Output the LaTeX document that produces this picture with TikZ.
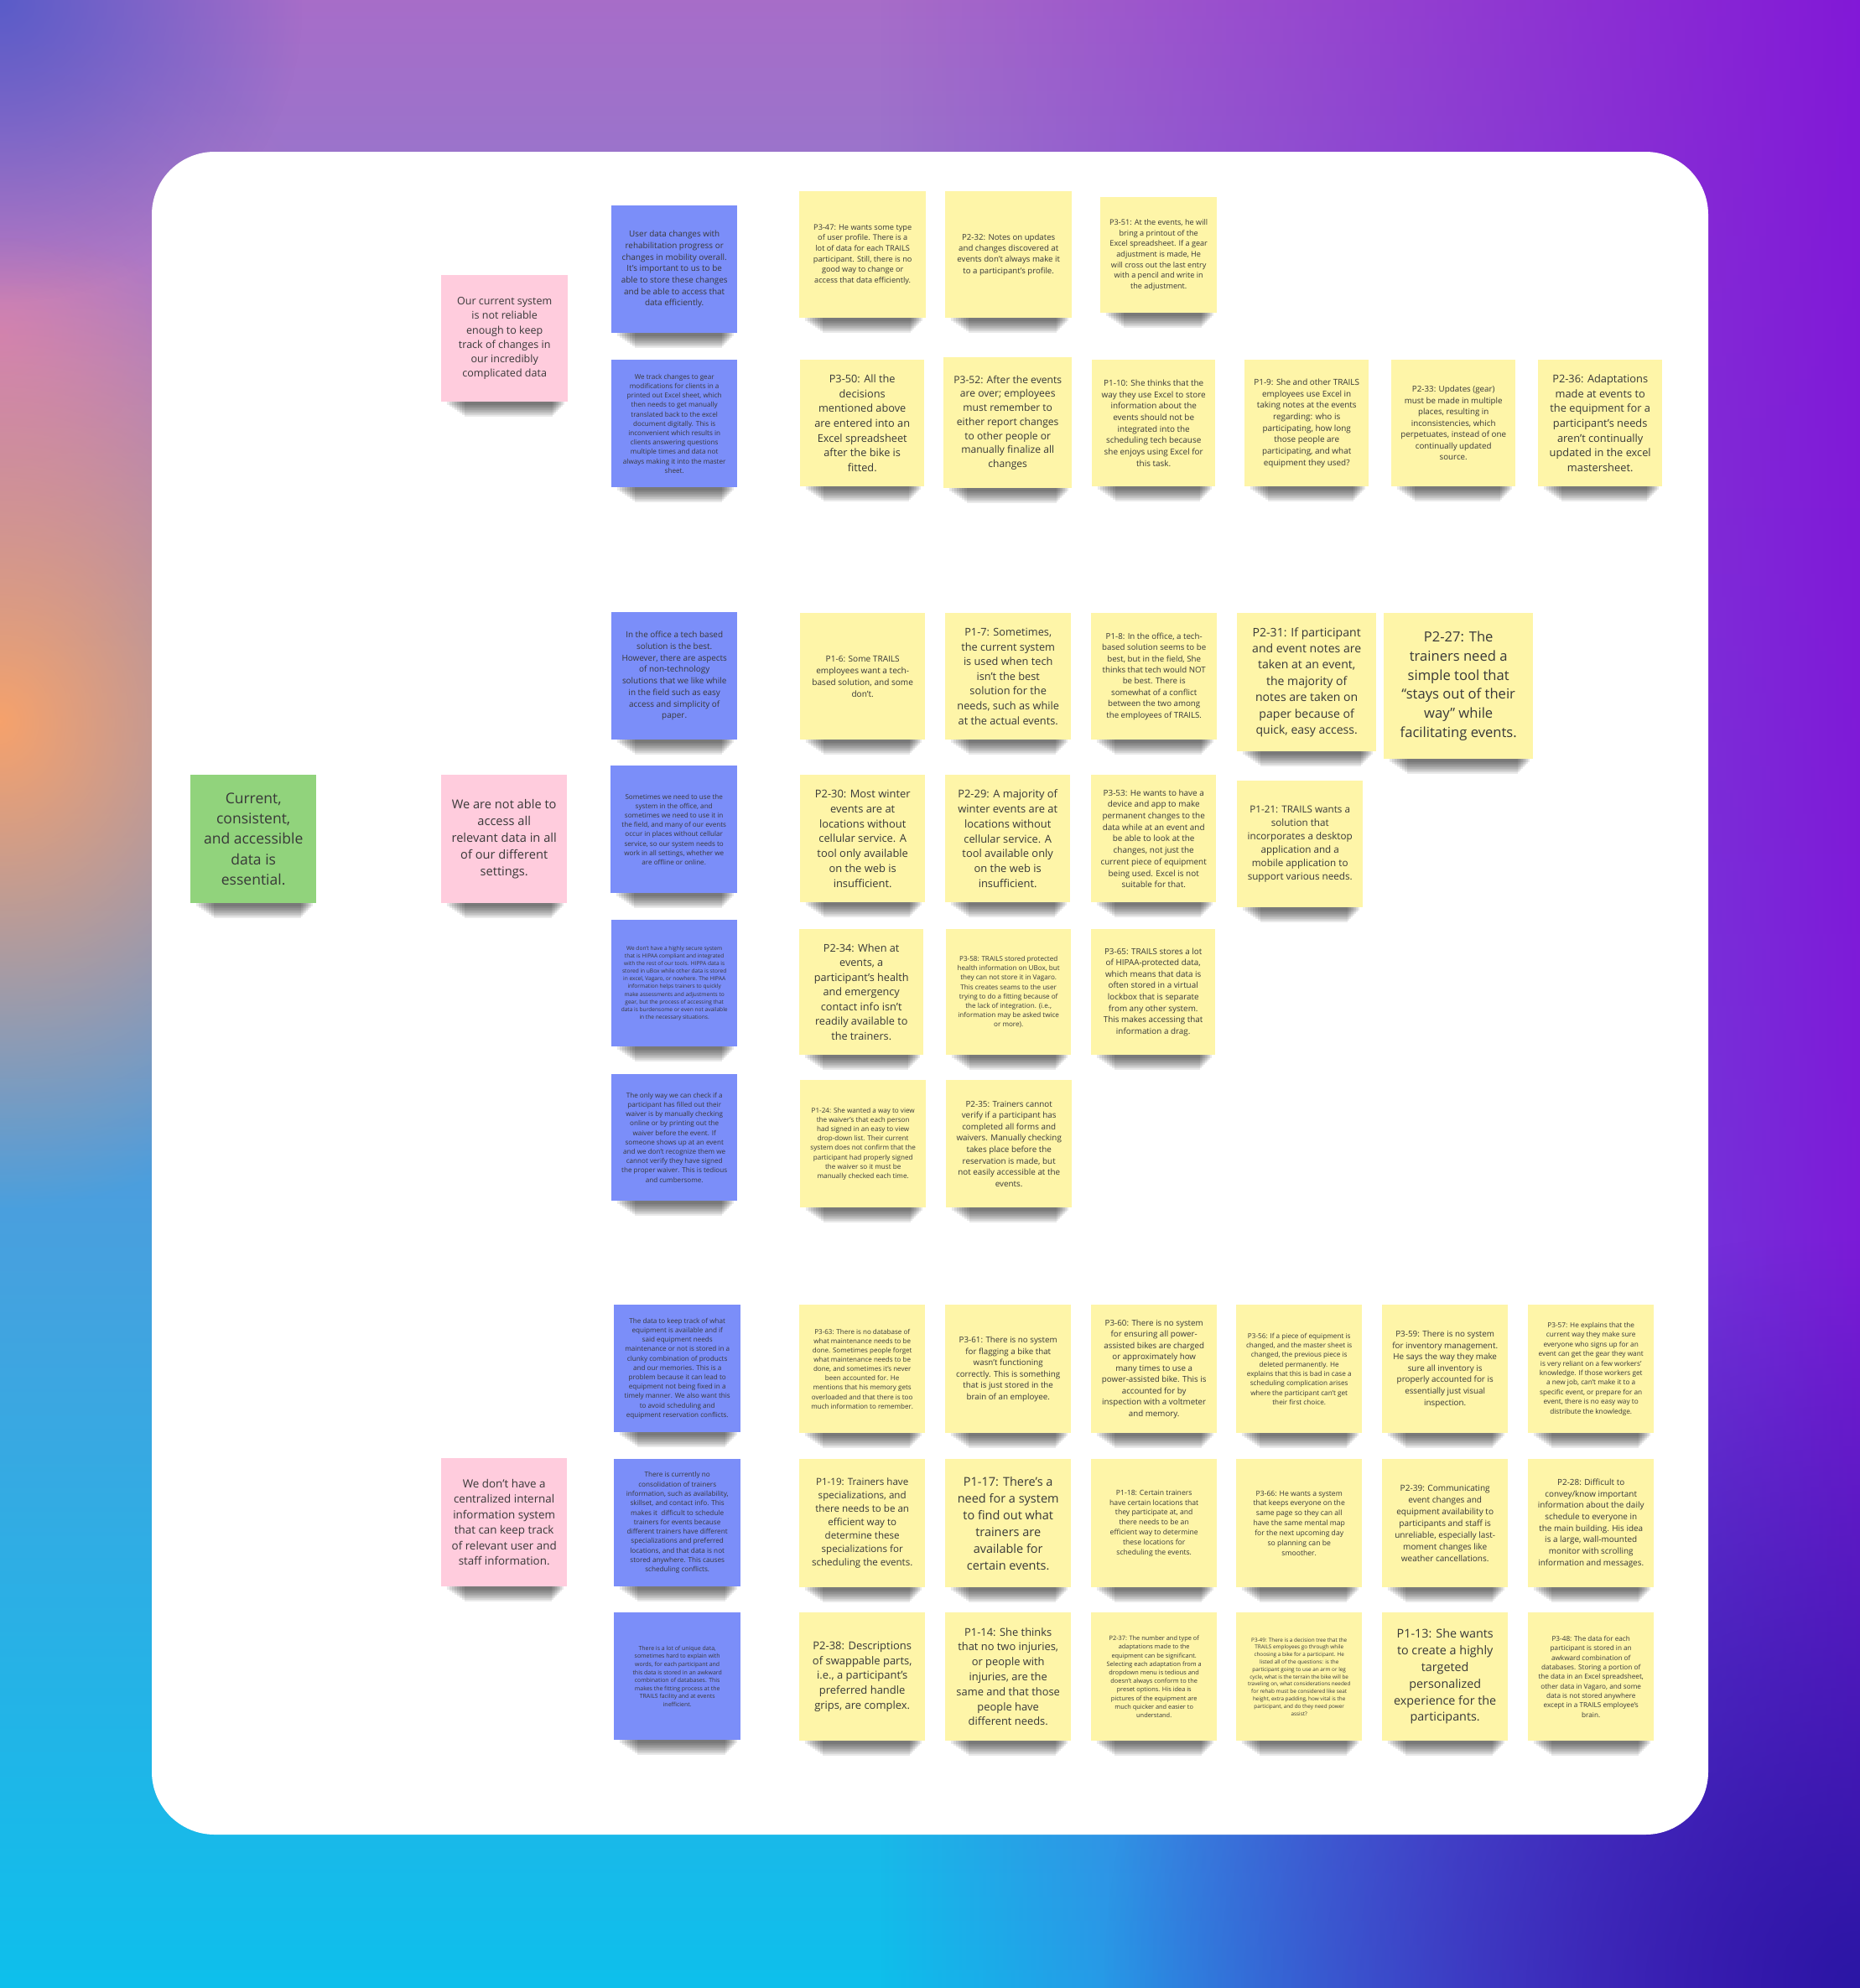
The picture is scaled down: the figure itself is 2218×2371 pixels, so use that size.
\documentclass[tikz,border=0pt]{standalone}
\usepackage{fontspec}
\setmainfont{Open Sans}
\usetikzlibrary{fadings}
\definecolor{yel}{HTML}{FEF5A8}
\definecolor{blu}{HTML}{7B8EF9}
\definecolor{pnk}{HTML}{FFCCDD}
\definecolor{grn}{HTML}{91D37C}
\definecolor{notetext}{HTML}{383838}
\definecolor{bgtop}{HTML}{A86CC8}
\definecolor{bgmid}{HTML}{B884C4}
\definecolor{bgbot}{HTML}{0CC0EC}
\definecolor{bgorange}{HTML}{F6A26C}
\definecolor{bgmagenta}{HTML}{D47CBC}
\definecolor{bgpurple}{HTML}{8014D8}
\definecolor{bgdeep}{HTML}{2A16A4}
\definecolor{bgblue}{HTML}{5A5CC8}
\tikzfading[name=fuzzy, inner color=transparent!0, outer color=transparent!100]
\tikzfading[name=faderight, left color=transparent!100, right color=transparent!0]
\tikzset{
  notebox/.style={inner sep=0pt, align=center, text=notetext},
  yelnote/.style={fill=yel},
  blunote/.style={fill=blu},
  pnknote/.style={fill=pnk},
  grnnote/.style={fill=grn},
  shadowfill/.style={fill=black, opacity=0.085}
}
% #1 name, #2 x, #3 y, #4 w, #5 h, #6 style, #7 line spacing, #8 text
\newcommand\mynote[8]{%
  \foreach \k in {1,...,8}{%
    \fill[shadowfill] ({#2+4+3*\k},{#3+#5-2}) rectangle ({#2+#4-2-2*\k},{#3+#5+2+2*\k});
  }%
  \pgfmathsetmacro\myfsz{#7/1.38}%
  \node[notebox, #6, minimum width=#4pt, minimum height=#5pt, anchor=north west,
        font=\fontsize{\myfsz pt}{#7 pt}\selectfont] (#1) at (#2,#3) {#8};
}
\begin{document}
\begin{tikzpicture}[x=1pt, y=-1pt]
\useasboundingbox (0,0) rectangle (2218,2371);
% background
\shade[top color=bgtop, middle color=bgmid, bottom color=bgbot] (-20,-20) rectangle (2238,2391);
\fill[bgmagenta, opacity=0.85, path fading=fuzzy] (-420,20) rectangle (420,780);
\fill[bgorange, path fading=fuzzy] (-520,280) rectangle (520,1440);
\fill[bgpurple, path fading=faderight] (1050,-60) rectangle (2280,2430);
\fill[bgdeep, path fading=fuzzy] (1318,1471) rectangle (3118,3271);
\fill[bgblue, path fading=fuzzy] (-360,-360) rectangle (360,360);
% card
\fill[white, rounded corners=75pt] (181,181) rectangle (2037,2188);

% level 1
\mynote{g}{227}{924}{150}{153}{grnnote}{24.2}{Current,\\ consistent,\\ and accessible\\ data is\\ essential.}
% level 2
\mynote{p1}{526}{328}{151}{151}{pnknote}{17.3}{Our current system\\ is not reliable\\ enough to keep\\ track of changes in\\ our incredibly\\ complicated data}
\mynote{p2}{526}{924}{150}{153}{pnknote}{20.2}{We are not able to\\ access all\\ relevant data in all\\ of our different\\ settings.}
\mynote{p3}{526}{1739}{150}{153}{pnknote}{18.5}{We don't have a\\ centralized internal\\ information system\\ that can keep track\\ of relevant user and\\ staff information.}

% row 1
\mynote{b1}{729}{245}{150}{152}{blunote}{13.7}{User data changes with\\ rehabilitation progress or\\ changes in mobility overall.\\ It's important to us to be\\ able to store these changes\\ and be able to access that\\ data efficiently.}
\mynote{y347}{953}{228}{151}{151}{yelnote}{12.7}{P3-47: He wants some type\\ of user profile. There is a\\ lot of data for each TRAILS\\ participant. Still, there is no\\ good way to change or\\ access that data efficiently.}
\mynote{y232}{1127}{228}{151}{151}{yelnote}{13.3}{P2-32: Notes on updates\\ and changes discovered at\\ events don't always make it\\ to a participant's profile.}
\mynote{y351}{1312}{235}{139}{138}{yelnote}{12.6}{P3-51: At the events, he will\\ bring a printout of the\\ Excel spreadsheet. If a gear\\ adjustment is made, He\\ will cross out the last entry\\ with a pencil and write in\\ the adjustment.}

% row 2
\mynote{b2}{729}{429}{150}{152}{blunote}{11.2}{We track changes to gear\\ modifications for clients in a\\ printed out Excel sheet, which\\ then needs to get manually\\ translated back to the excel\\ document digitally. This is\\ inconvenient which results in\\ clients answering questions\\ multiple times and data not\\ always making it into the master\\ sheet.}
\mynote{y350}{954}{429}{148}{151}{yelnote}{17.6}{P3-50: All the\\ decisions\\ mentioned above\\ are entered into an\\ Excel spreadsheet\\ after the bike is\\ fitted.}
\mynote{y352}{1125}{426}{153}{156}{yelnote}{16.7}{P3-52: After the events\\ are over; employees\\ must remember to\\ either report changes\\ to other people or\\ manually finalize all\\ changes}
\mynote{y110}{1302}{429}{147}{151}{yelnote}{13.7}{P1-10: She thinks that the\\ way they use Excel to store\\ information about the\\ events should not be\\ integrated into the\\ scheduling tech because\\ she enjoys using Excel for\\ this task.}
\mynote{y19}{1484}{429}{148}{151}{yelnote}{13.7}{P1-9: She and other TRAILS\\ employees use Excel in\\ taking notes at the events\\ regarding: who is\\ participating, how long\\ those people are\\ participating, and what\\ equipment they used?}
\mynote{y233}{1659}{429}{148}{151}{yelnote}{13.5}{P2-33: Updates (gear)\\ must be made in multiple\\ places, resulting in\\ inconsistencies, which\\ perpetuates, instead of one\\ continually updated\\ source.}
\mynote{y236}{1834}{429}{148}{151}{yelnote}{17.7}{P2-36: Adaptations\\ made at events to\\ the equipment for a\\ participant's needs\\ aren't continually\\ updated in the excel\\ mastersheet.}

% row 3
\mynote{b3}{729}{730}{150}{152}{blunote}{13.7}{In the office a tech based\\ solution is the best.\\ However, there are aspects\\ of non-technology\\ solutions that we like while\\ in the field such as easy\\ access and simplicity of\\ paper.}
\mynote{y16}{954}{731}{149}{151}{yelnote}{13.9}{P1-6: Some TRAILS\\ employees want a tech-\\ based solution, and some\\ don't.}
\mynote{y17}{1127}{731}{150}{151}{yelnote}{17.6}{P1-7: Sometimes,\\ the current system\\ is used when tech\\ isn't the best\\ solution for the\\ needs, such as while\\ at the actual events.}
\mynote{y18}{1301}{731}{150}{151}{yelnote}{13.4}{P1-8: In the office, a tech-\\ based solution seems to be\\ best, but in the field, She\\ thinks that tech would NOT\\ be best. There is\\ somewhat of a conflict\\ between the two among\\ the employees of TRAILS.}
\mynote{y231}{1475}{731}{166}{165}{yelnote}{19.4}{P2-31: If participant\\ and event notes are\\ taken at an event,\\ the majority of\\ notes are taken on\\ paper because of\\ quick, easy access.}
\mynote{y227}{1650}{731}{178}{174}{yelnote}{22.9}{P2-27: The\\ trainers need a\\ simple tool that\\ “stays out of their\\ way” while\\ facilitating events.}

% row 4
\mynote{b4}{728}{913}{151}{152}{blunote}{11.2}{Sometimes we need to use the\\ system in the office, and\\ sometimes we need to use it in\\ the field, and many of our events\\ occur in places without cellular\\ service, so our system needs to\\ work in all settings, whether we\\ are offline or online.}
\mynote{y230}{954}{924}{149}{152}{yelnote}{17.8}{P2-30: Most winter\\ events are at\\ locations without\\ cellular service. A\\ tool only available\\ on the web is\\ insufficient.}
\mynote{y229}{1127}{924}{149}{152}{yelnote}{17.8}{P2-29: A majority of\\ winter events are at\\ locations without\\ cellular service. A\\ tool available only\\ on the web is\\ insufficient.}
\mynote{y353}{1301}{924}{149}{152}{yelnote}{13.7}{P3-53: He wants to have a\\ device and app to make\\ permanent changes to the\\ data while at an event and\\ be able to look at the\\ changes, not just the\\ current piece of equipment\\ being used. Excel is not\\ suitable for that.}
\mynote{y121}{1475}{931}{150}{151}{yelnote}{16.1}{P1-21: TRAILS wants a\\ solution that\\ incorporates a desktop\\ application and a\\ mobile application to\\ support various needs.}

% row 5
\mynote{b5}{729}{1097}{150}{151}{blunote}{9.1}{We don't have a highly secure system\\ that is HIPAA compliant and integrated\\ with the rest of our tools. HIPPA data is\\ stored in uBox while other data is stored\\ in excel, Vagaro, or nowhere. The HIPAA\\ information helps trainers to quickly\\ make assessments and adjustments to\\ gear, but the process of accessing that\\ data is burdensome or even not available\\ in the necessary situations.}
\mynote{y234}{953}{1108}{148}{150}{yelnote}{17.5}{P2-34: When at\\ events, a\\ participant's health\\ and emergency\\ contact info isn't\\ readily available to\\ the trainers.}
\mynote{y358}{1128}{1108}{149}{150}{yelnote}{11.2}{P3-58: TRAILS stored protected\\ health information on UBox, but\\ they can not store it in Vagaro.\\ This creates seams to the user\\ trying to do a fitting because of\\ the lack of integration. (i.e.,\\ information may be asked twice\\ or more).}
\mynote{y365}{1301}{1108}{148}{150}{yelnote}{13.6}{P3-65: TRAILS stores a lot\\ of HIPAA-protected data,\\ which means that data is\\ often stored in a virtual\\ lockbox that is separate\\ from any other system.\\ This makes accessing that\\ information a drag.}

% row 6
\mynote{b6}{729}{1281}{150}{151}{blunote}{11.2}{The only way we can check if a\\ participant has filled out their\\ waiver is by manually checking\\ online or by printing out the\\ waiver before the event. If\\ someone shows up at an event\\ and we don't recognize them we\\ cannot verify they have signed\\ the proper waiver. This is tedious\\ and cumbersome.}
\mynote{y124}{954}{1288}{150}{152}{yelnote}{11.2}{P1-24: She wanted a way to view\\ the waiver's that each person\\ had signed in an easy to view\\ drop-down list. Their current\\ system does not confirm that the\\ participant had properly signed\\ the waiver so it must be\\ manually checked each time.}
\mynote{y235}{1128}{1288}{150}{152}{yelnote}{13.6}{P2-35: Trainers cannot\\ verify if a participant has\\ completed all forms and\\ waivers. Manually checking\\ takes place before the\\ reservation is made, but\\ not easily accessible at the\\ events.}

% row 7
\mynote{b7}{732}{1556}{151}{152}{blunote}{11.2}{The data to keep track of what\\ equipment is available and if\\ said equipment needs\\ maintenance or not is stored in a\\ clunky combination of products\\ and our memories. This is a\\ problem because it can lead to\\ equipment not being fixed in a\\ timely manner. We also want this\\ to avoid scheduling and\\ equipment reservation conflicts.}
\mynote{y363}{953}{1556}{150}{153}{yelnote}{11.1}{P3-63: There is no database of\\ what maintenance needs to be\\ done. Sometimes people forget\\ what maintenance needs to be\\ done, and sometimes it's never\\ been accounted for. He\\ mentions that his memory gets\\ overloaded and that there is too\\ much information to remember.}
\mynote{y361}{1127}{1556}{150}{153}{yelnote}{13.5}{P3-61: There is no system\\ for flagging a bike that\\ wasn't functioning\\ correctly. This is something\\ that is just stored in the\\ brain of an employee.}
\mynote{y360}{1301}{1556}{150}{153}{yelnote}{13.5}{P3-60: There is no system\\ for ensuring all power-\\ assisted bikes are charged\\ or approximately how\\ many times to use a\\ power-assisted bike. This is\\ accounted for by\\ inspection with a voltmeter\\ and memory.}
\mynote{y356}{1474}{1556}{150}{153}{yelnote}{11.3}{P3-56: If a piece of equipment is\\ changed, and the master sheet is\\ changed, the previous piece is\\ deleted permanently. He\\ explains that this is bad in case a\\ scheduling complication arises\\ where the participant can't get\\ their first choice.}
\mynote{y359}{1648}{1556}{150}{153}{yelnote}{13.6}{P3-59: There is no system\\ for inventory management.\\ He says the way they make\\ sure all inventory is\\ properly accounted for is\\ essentially just visual\\ inspection.}
\mynote{y357}{1822}{1556}{150}{153}{yelnote}{11.4}{P3-57: He explains that the\\ current way they make sure\\ everyone who signs up for an\\ event can get the gear they want\\ is very reliant on a few workers'\\ knowledge. If those workers get\\ a new job, can't make it to a\\ specific event, or prepare for an\\ event, there is no easy way to\\ distribute the knowledge.}

% row 8
\mynote{b8}{732}{1740}{151}{152}{blunote}{11.3}{There is currently no\\ consolidation of trainers\\ information, such as availability,\\ skillset, and contact info. This\\ makes it \ difficult to schedule\\ trainers for events because\\ different trainers have different\\ specializations and preferred\\ locations, and that data is not\\ stored anywhere. This causes\\ scheduling conflicts.}
\mynote{y119}{953}{1740}{150}{153}{yelnote}{16.0}{P1-19: Trainers have\\ specializations, and\\ there needs to be an\\ efficient way to\\ determine these\\ specializations for\\ scheduling the events.}
\mynote{y117}{1127}{1740}{150}{153}{yelnote}{20.0}{P1-17: There's a\\ need for a system\\ to find out what\\ trainers are\\ available for\\ certain events.}
\mynote{y118}{1301}{1740}{150}{153}{yelnote}{11.9}{P1-18: Certain trainers\\ have certain locations that\\ they participate at, and\\ there needs to be an\\ efficient way to determine\\ these locations for\\ scheduling the events.}
\mynote{y366}{1474}{1740}{150}{153}{yelnote}{11.9}{P3-66: He wants a system\\ that keeps everyone on the\\ same page so they can all\\ have the same mental map\\ for the next upcoming day\\ so planning can be\\ smoother.}
\mynote{y239}{1648}{1740}{150}{153}{yelnote}{13.9}{P2-39: Communicating\\ event changes and\\ equipment availability to\\ participants and staff is\\ unreliable, especially last-\\ moment changes like\\ weather cancellations.}
\mynote{y228}{1822}{1740}{150}{153}{yelnote}{13.7}{P2-28: Difficult to\\ convey/know important\\ information about the daily\\ schedule to everyone in\\ the main building. His idea\\ is a large, wall-mounted\\ monitor with scrolling\\ information and messages.}

% row 9
\mynote{b9}{732}{1923}{151}{152}{blunote}{9.6}{There is a lot of unique data,\\ sometimes hard to explain with\\ words, for each participant and\\ this data is stored in an awkward\\ combination of databases. This\\ makes the fitting process at the\\ TRAILS facility and at events\\ inefficient.}
\mynote{y238}{953}{1923}{150}{153}{yelnote}{17.9}{P2-38: Descriptions\\ of swappable parts,\\ i.e., a participant's\\ preferred handle\\ grips, are complex.}
\mynote{y114}{1127}{1923}{150}{153}{yelnote}{17.8}{P1-14: She thinks\\ that no two injuries,\\ or people with\\ injuries, are the\\ same and that those\\ people have\\ different needs.}
\mynote{y237}{1301}{1923}{150}{153}{yelnote}{10.2}{P2-37: The number and type of\\ adaptations made to the\\ equipment can be significant.\\ Selecting each adaptation from a\\ dropdown menu is tedious and\\ doesn't always conform to the\\ preset options. His idea is\\ pictures of the equipment are\\ much quicker and easier to\\ understand.}
\mynote{y349}{1474}{1923}{150}{153}{yelnote}{8.8}{P3-49: There is a decision tree that the\\ TRAILS employees go through while\\ choosing a bike for a participant. He\\ listed all of the questions: is the\\ participant going to use an arm or leg\\ cycle, what is the terrain the bike will be\\ traveling on, what considerations needed\\ for rehab must be considered like seat\\ height, extra padding, how vital is the\\ participant, and do they need power\\ assist?}
\mynote{y113}{1648}{1923}{150}{153}{yelnote}{19.8}{P1-13: She wants\\ to create a highly\\ targeted\\ personalized\\ experience for the\\ participants.}
\mynote{y348}{1822}{1923}{150}{153}{yelnote}{11.3}{P3-48: The data for each\\ participant is stored in an\\ awkward combination of\\ databases. Storing a portion of\\ the data in an Excel spreadsheet,\\ other data in Vagaro, and some\\ data is not stored anywhere\\ except in a TRAILS employee's\\ brain.}
\end{tikzpicture}
\end{document}
